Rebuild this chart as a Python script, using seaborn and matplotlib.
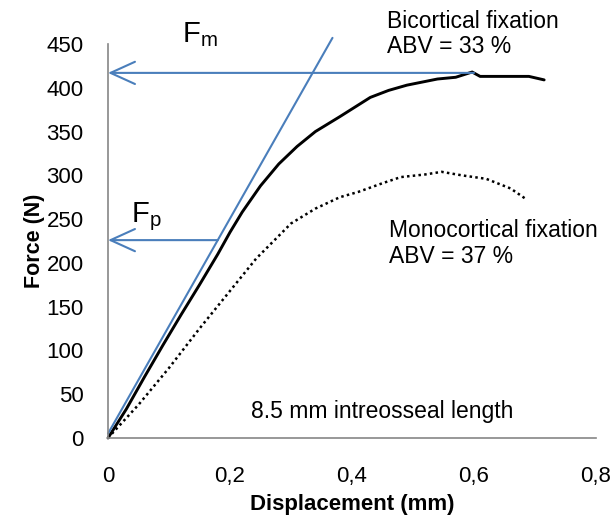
import matplotlib
matplotlib.use("Agg")
import matplotlib.pyplot as plt
import seaborn as sns
import pandas as pd

# ---- data ----
bi_disp = [0, 0.03, 0.06, 0.09, 0.12, 0.15, 0.18, 0.20, 0.22, 0.25, 0.28, 0.31, 0.34,
           0.38, 0.43, 0.46, 0.49, 0.54, 0.57, 0.597, 0.61, 0.65, 0.69, 0.715]
bi_force = [0, 33, 70, 106, 141, 175, 210, 235, 258, 288, 313, 333, 350,
            367, 389, 397, 403, 410, 412, 418, 413, 413, 413, 409]

mono_disp = [0, 0.05, 0.10, 0.15, 0.20, 0.243, 0.273, 0.30, 0.34, 0.38, 0.41, 0.45,
             0.48, 0.52, 0.547, 0.58, 0.62, 0.66, 0.685]
mono_force = [0, 38, 80, 125, 168, 205, 226, 245, 262, 275, 281, 291,
              298, 301, 304, 300, 296, 285, 273]

tangent_disp = [0.0, 0.368]
tangent_force = [5, 457]

F_m = 417   # max force level
F_p = 226   # proportional limit level
F_m_disp = 0.6
F_p_disp = 0.18

x_ticks = [0, 0.2, 0.4, 0.6, 0.8]
x_tick_labels = ["0", "0,2", "0,4", "0,6", "0,8"]
y_ticks = list(range(0, 451, 50))

sns.set_style("white")
plt.rcParams["font.family"] = ["Liberation Sans", "DejaVu Sans"]
plt.rcParams["mathtext.fontset"] = "custom"
plt.rcParams["mathtext.rm"] = "Liberation Sans"
plt.rcParams["text.color"] = "black"
plt.rcParams["axes.labelcolor"] = "black"

fig = plt.figure(figsize=(6.14, 5.28), dpi=100)
ax = fig.add_axes([108 / 614, 90 / 528, 488 / 614, 394 / 528])

blue = "#4a7ebb"
grey = "#868686"

bi = pd.DataFrame({"x": bi_disp, "y": bi_force})
mono = pd.DataFrame({"x": mono_disp, "y": mono_force})
tan = pd.DataFrame({"x": tangent_disp, "y": tangent_force})

sns.lineplot(data=mono, x="x", y="y", ax=ax, color="black", lw=1.8,
             linestyle=(0, (1, 1.3)), sort=False, estimator=None)
sns.lineplot(data=bi, x="x", y="y", ax=ax, color="black", lw=2.1,
             sort=False, estimator=None)
sns.lineplot(data=tan, x="x", y="y", ax=ax, color=blue, lw=1.5,
             sort=False, estimator=None)
for line in ax.lines:
    line.set_clip_on(False)

for lvl, x0 in [(F_m, F_m_disp), (F_p, F_p_disp)]:
    ax.annotate("", xy=(0, lvl), xytext=(x0, lvl),
                arrowprops=dict(arrowstyle="->,head_length=1.1,head_width=0.5",
                                color=blue, lw=1.5, shrinkA=0, shrinkB=0,
                                mutation_scale=16),
                annotation_clip=False)

ax.set_xlim(0, 0.8)
ax.set_ylim(0, 450)
ax.set_xticks(x_ticks)
ax.set_xticklabels(x_tick_labels)
ax.set_yticks(y_ticks)

for s in ["top", "right"]:
    ax.spines[s].set_visible(False)
for s in ["left", "bottom"]:
    ax.spines[s].set_color(grey)
    ax.spines[s].set_linewidth(1.2)

ax.tick_params(axis="both", which="major", direction="out", length=5.5, width=1.2,
               color=grey, labelsize=16, labelcolor="black")
ax.tick_params(axis="x", pad=15)
ax.tick_params(axis="y", pad=12)

ax.set_xlabel("Displacement (mm)", fontsize=16, fontweight="bold", labelpad=5)
ax.set_ylabel("Force (N)", fontsize=15.5, fontweight="bold", labelpad=1)

ax.text(0.121, 452, r"F$_\mathrm{m}$", fontsize=21, va="baseline", ha="left", clip_on=False)
ax.text(0.037, 246, r"F$_\mathrm{p}$", fontsize=21, va="baseline", ha="left", clip_on=False)

ax.text(0.457, 468, "Bicortical fixation", fontsize=16.5, va="baseline", ha="left", clip_on=False)
ax.text(0.457, 440, "ABV = 33 %", fontsize=16.5, va="baseline", ha="left", clip_on=False)
ax.text(0.461, 229, "Monocortical fixation", fontsize=16.5, va="baseline", ha="left")
ax.text(0.461, 200, "ABV = 37 %", fontsize=16.5, va="baseline", ha="left")
ax.text(0.234, 23, "8.5 mm intreosseal length", fontsize=16.5, va="baseline", ha="left")

fig.savefig("out.png", dpi=100)
